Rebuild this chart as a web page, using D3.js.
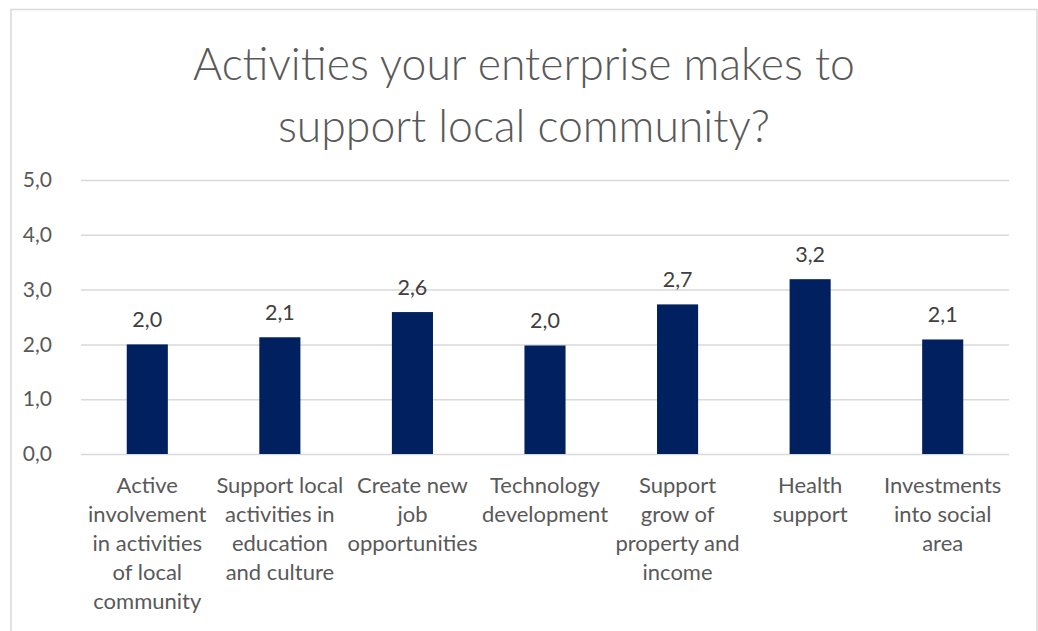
<!DOCTYPE html>
<html>
<head>
<meta charset="utf-8">
<script src="https://cdn.jsdelivr.net/npm/d3@7"></script>
<style>
  html, body { margin: 0; padding: 0; background: #fff; }
  svg { display: block; }
  text { font-family: Lato, "Open Sans", sans-serif; }
</style>
</head>
<body>
<svg id="chart" width="1038" height="631"></svg>
<script>
// Average scores per activity (scale 0–5)
const categories = [
  ["Active", "involvement", "in activities", "of local", "community"],
  ["Support local", "activities in", "education", "and culture"],
  ["Create new", "job", "opportunities"],
  ["Technology", "development"],
  ["Support", "grow of", "property and", "income"],
  ["Health", "support"],
  ["Investments", "into social", "area"]
];
const values = [2.00, 2.13, 2.59, 1.98, 2.73, 3.19, 2.09];
const yTicks = [0, 1, 2, 3, 4, 5];
const titleLines = ["Activities your enterprise makes to", "support local community?"];

const svg = d3.select("#chart");
const plot = { left: 81, right: 1009, top: 180, bottom: 454 };

// chart frame (bottom edge lies outside the view)
svg.append("rect")
  .attr("x", 11).attr("y", 9.5)
  .attr("width", 1026).attr("height", 640)
  .attr("fill", "#fff")
  .attr("stroke", "#d9d9d9").attr("stroke-width", 1.5);

const x = d3.scaleBand()
  .domain(d3.range(values.length))
  .range([plot.left, plot.right])
  .paddingInner(0.69).paddingOuter(0.345);

const y = d3.scaleLinear().domain([0, 5]).range([plot.bottom, plot.top]);

const fmt = v => d3.format(".1f")(v).replace(".", ",");

// title
svg.append("g").selectAll("text")
  .data(titleLines).join("text")
  .attr("x", 524).attr("y", (d, i) => 80 + i * 62)
  .attr("text-anchor", "middle")
  .attr("font-size", 44.5)
  .attr("font-weight", 300)
  .attr("fill", "#595959")
  .text(d => d);

// y axis with gridlines
const yAxis = d3.axisLeft(y)
  .tickValues(yTicks)
  .tickSize(-(plot.right - plot.left))
  .tickPadding(29)
  .tickFormat(fmt);

const gy = svg.append("g")
  .attr("transform", `translate(${plot.left},0)`)
  .call(yAxis);
gy.select(".domain").remove();
gy.selectAll(".tick line").attr("stroke", "#d9d9d9").attr("stroke-width", 1.5);
gy.selectAll(".tick text")
  .attr("font-size", 21)
  .attr("fill", "#595959")
  .attr("font-family", "Lato, sans-serif");

// bars
svg.append("g").selectAll("rect")
  .data(values).join("rect")
  .attr("x", (d, i) => x(i))
  .attr("y", d => y(d))
  .attr("width", x.bandwidth())
  .attr("height", d => y(0) - y(d))
  .attr("fill", "#002060");

// value labels
svg.append("g").selectAll("text")
  .data(values).join("text")
  .attr("x", (d, i) => x(i) + x.bandwidth() / 2)
  .attr("y", d => y(d) - 17)
  .attr("text-anchor", "middle")
  .attr("font-size", 21.5)
  .attr("fill", "#404040")
  .text(d => fmt(d));

// category labels
const cat = svg.append("g").selectAll("text")
  .data(categories).join("text")
  .attr("text-anchor", "middle")
  .attr("font-size", 22)
  .attr("fill", "#595959");
cat.selectAll("tspan")
  .data((d, i) => d.map(line => ({ line, i })))
  .join("tspan")
  .attr("x", d => x(d.i) + x.bandwidth() / 2)
  .attr("y", (d, j) => 493 + j * 29)
  .text(d => d.line);
</script>
</body>
</html>
